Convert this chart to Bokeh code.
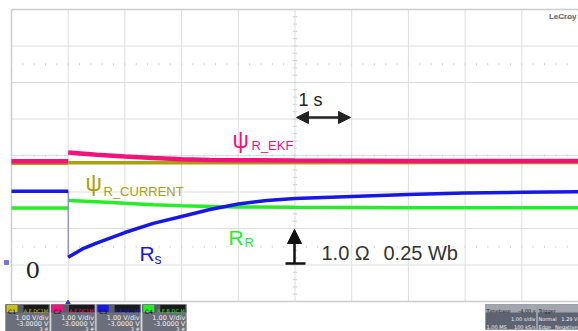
from bokeh.plotting import figure
from bokeh.models import Range1d, Arrow, NormalHead
from bokeh.core.properties import value
from bokeh.embed import file_html
from bokeh.resources import INLINE

# ---- data: time in s, level in divisions ----
t_pre = [-1.0, 0.0]
psi_ekf_pre = [-0.16, -0.16]
psi_cur_pre = [-0.21, -0.21]
rs_pre = [-0.98, -0.98]
rr_pre = [-1.44, -1.44]

t_psi_ekf = [0.0, 0.5, 1.0, 1.5, 2.0, 2.5, 3.0, 4.0, 6.0, 9.0]
psi_ekf = [0.08, 0.02, -0.03, -0.07, -0.10, -0.12, -0.13, -0.14, -0.15, -0.15]
t_psi_cur = [0.0, 9.0]
psi_cur = [-0.20, -0.19]
t_rs = [0.0, 0.25, 0.5, 1.0, 1.5, 2.0, 2.5, 3.0, 3.5, 4.0, 5.0, 6.0, 7.0, 8.0, 9.0]
rs = [-2.79, -2.56, -2.40, -2.11, -1.86, -1.67, -1.48, -1.33, -1.23, -1.18,
      -1.12, -1.07, -1.03, -1.01, -0.99]
t_rr = [0.0, 0.5, 1.0, 1.5, 2.0, 2.5, 3.0, 4.0, 6.0, 9.0]
rr = [-1.23, -1.27, -1.31, -1.35, -1.38, -1.40, -1.41, -1.42, -1.43, -1.43]

grid_t = list(range(-1, 10))
grid_d = list(range(-4, 5))

ch_names = ["C1", "C2", "C3", "C4"]
ch_flags = ["A F DC1M", "A F DC1M", "A F DC1M", "A F B DC M"]
ch_scale = ["1.00 V/div"] * 4
ch_offset = ["-3.0000 V"] * 4
ch_count = ["3 #"] * 4
tb_rows = [("Timebase", "-4.00 s"), ("", "1.00 s/div"), ("1.00 MS", "100 kS/s")]
tr_rows = [("Trigger", ""), ("Normal", "1.29 V"), ("Edge", "Negative")]

PINK = "#f2127c"
OLIVE = "#a9a10a"
BLUE = "#1717e6"
GREEN = "#26ee26"
GRID = "#dedede"

# pixel -> data helpers for annotation placement
def X(px):
    return (px - 11) / 56.7 - 1

def Y(py):
    return (155 - py) / 36.5

W, H = 578, 331
p = figure(width=W, height=H, output_backend="svg", toolbar_location=None,
           x_range=Range1d(X(0), X(W)), y_range=Range1d(Y(H), Y(0)),
           x_axis_location=None, y_axis_location=None, min_border=0)
p.grid.visible = False
p.outline_line_color = None
p.background_fill_color = "white"
p.border_fill_color = "white"

# grid
p.segment(x0=grid_t, y0=[-4] * len(grid_t), x1=grid_t, y1=[4] * len(grid_t),
          line_color=GRID, line_width=1)
p.segment(x0=[-1] * len(grid_d), y0=grid_d, x1=[9] * len(grid_d), y1=grid_d,
          line_color=GRID, line_width=1)
p.segment(x0=[-1, -1], y0=[-4, 4], x1=[9, 9], y1=[-4, 4], line_color="#cccccc", line_width=1.5)
p.segment(x0=[-1], y0=[-4], x1=[-1], y1=[4], line_color="#cccccc", line_width=1.5)

# minor ticks on centre lines
minor_t = [i * 0.2 - 1 for i in range(51)]
minor_d = [i * 0.2 - 4 for i in range(41)]
for row in (0, 2.5, -2.5):
    p.segment(x0=minor_t, y0=[row - 0.03] * len(minor_t), x1=minor_t, y1=[row + 0.03] * len(minor_t),
              line_color="#d6d6d6", line_width=1)
p.segment(x0=[4 - 0.04] * len(minor_d), y0=minor_d, x1=[4 + 0.04] * len(minor_d), y1=minor_d,
          line_color="#d2d2d2", line_width=1)

# traces
p.line(t_pre, psi_cur_pre, line_color=OLIVE, line_width=3.5)
p.line(t_psi_cur, psi_cur, line_color=OLIVE, line_width=3.5)
p.line(t_pre, psi_ekf_pre, line_color=PINK, line_width=4.5)
p.line(t_psi_ekf, psi_ekf, line_color=PINK, line_width=4.5)
p.line(t_pre, rr_pre, line_color=GREEN, line_width=3.5)
p.line(t_rr, rr, line_color=GREEN, line_width=3.5)
p.segment(x0=[t_pre[-1]], y0=[rs_pre[-1]], x1=[t_rs[0]], y1=[rs[0]], line_color="#6a6af0", line_width=1)
p.line(t_pre, rs_pre, line_color=BLUE, line_width=3.5)
p.line(t_rs, rs, line_color=BLUE, line_width=3.5)

FONT = value("Liberation Sans")

def label(px, py, txt, size, color, font=FONT, align="left", baseline="alphabetic", style="normal"):
    p.text(x=[X(px)], y=[Y(py)], text=[txt], text_font=font, text_font_size=size,
           text_color=color, text_align=align, text_baseline=baseline, text_font_style=style)

# trace labels
label(232, 139, "ψ", "23px", PINK)
label(251, 145, "R_EKF", "13px", PINK)
label(85, 182, "ψ", "23px", OLIVE)
label(103, 191, "R_CURRENT", "13px", OLIVE)
label(139, 253, "R", "21px", BLUE)
label(154, 258, "s", "14px", BLUE)
label(228, 237, "R", "21px", GREEN)
label(244, 242, "R", "13px", GREEN)

label(25, 269, "0", "23px", "#222222", font=value("DejaVu Serif"))
label(321, 252, "1.0 Ω", "20px", "#333333")
label(383, 252, "0.25 Wb", "20px", "#333333")
label(298, 99, "1 s", "18px", "#222222")

# arrows
head = dict(size=12, fill_color="#222222", line_color="#222222")
p.add_layout(Arrow(start=NormalHead(**head), end=NormalHead(**head),
                   x_start=X(296), y_start=Y(117), x_end=X(350), y_end=Y(117),
                   line_color="#222222", line_width=2.5))
p.add_layout(Arrow(end=NormalHead(size=14, fill_color="#111111", line_color="#111111"),
                   x_start=X(294), y_start=Y(263), x_end=X(294), y_end=Y(229),
                   line_color="#111111", line_width=2.5))
p.segment(x0=[X(285)], y0=[Y(263)], x1=[X(305)], y1=[Y(263)], line_color="#111111", line_width=2.5)

# markers
p.scatter([X(67.5)], [Y(302.5)], marker="triangle", size=5, color="#3030e0")
p.scatter([X(6)], [Y(262)], marker="square", size=4, color="#7070f0")

# LeCroy logo
label(576, 16, "LeCroy", "8px", "#666666", align="right", style="bold")
p.segment(x0=[X(553)], y0=[Y(17.5)], x1=[X(576)], y1=[Y(17.5)], line_color="#888888", line_width=0.8)

# channel boxes
ch_colors = ["#c8c020", PINK, BLUE, GREEN]
SMALL = value("DejaVu Sans")
for i, name in enumerate(ch_names):
    x0 = 5 + i * 45.6
    x1 = x0 + 44
    p.quad(left=[X(x0)], right=[X(x1)], bottom=[Y(332)], top=[Y(304)],
           fill_color="#6b6f7b", line_color="#9a9ca4", line_width=1)
    p.quad(left=[X(x0)], right=[X(x1)], bottom=[Y(312)], top=[Y(304)],
           fill_color="#5a5d66", line_color=None)
    p.quad(left=[X(x0 + 1)], right=[X(x0 + 12)], bottom=[Y(311.5)], top=[Y(304.5)],
           fill_color=ch_colors[i], line_color=None)
    label(x0 + 6.5, 310.5, name, "6px", "#111111", font=SMALL, align="center")
    p.quad(left=[X(x0 + 18)], right=[X(x1 - 1)], bottom=[Y(311.5)], top=[Y(304.5)],
           fill_color="#1a1a1a", line_color=None)
    label(x1 - 1.5, 310.5, ch_flags[i], "5px", ch_colors[i], font=SMALL, align="right")
    label(x1 - 1, 317.5, ch_scale[i], "6.5px", "#f0f0f0", font=SMALL, align="right")
    label(x1 - 1, 323.5, ch_offset[i], "6.5px", "#f0f0f0", font=SMALL, align="right")
    label(x1 - 1, 328.5, ch_count[i], "5px", "#f0f0f0", font=SMALL, align="right")

# timebase / trigger boxes
for bx0, bx1, rows in ((485, 536, tb_rows), (537, 578, tr_rows)):
    p.quad(left=[X(bx0)], right=[X(bx1)], bottom=[Y(329)], top=[Y(304)],
           fill_color="#5d6372", line_color="#9a9ca4", line_width=1)
    p.quad(left=[X(bx0)], right=[X(bx1)], bottom=[Y(312)], top=[Y(304)],
           fill_color="#a3a6ae", line_color=None)
    for r, (lt, rt) in enumerate(rows):
        col = "#1a1a1a" if r == 0 else "#f0f0f0"
        yb = 310.5 + r * 8
        label(bx0 + 1, yb, lt, "5px", col, font=SMALL)
        label(bx1 - 1, yb, rt, "5px", col, font=SMALL, align="right")

open("out.html", "w").write(file_html(p, INLINE))
